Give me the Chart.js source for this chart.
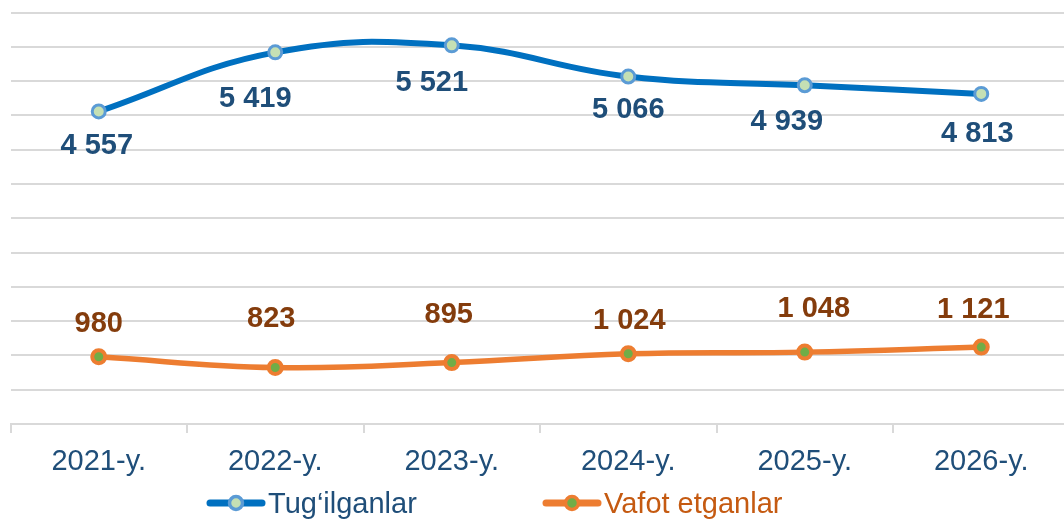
<!DOCTYPE html>
<html>
<head>
<meta charset="utf-8">
<script src="https://cdn.jsdelivr.net/npm/chart.js@4.4.1/dist/chart.umd.min.js"></script>
<style>
  html, body { margin: 0; padding: 0; background: #fff; overflow: hidden; }
  #wrap { width: 1080px; height: 520px; }
</style>
</head>
<body>
<div id="wrap"><canvas id="chart" width="1080" height="520"></canvas></div>
<script>
// chart data
const years = ["2021-y.", "2022-y.", "2023-y.", "2024-y.", "2025-y.", "2026-y."];
const births = [4557, 5419, 5521, 5066, 4939, 4813];
const deaths = [980, 823, 895, 1024, 1048, 1121];
const seriesNames = ["Tug\u2018ilganlar", "Vafot etganlar"];
const yMin = 0;
const yMax = 6000;
const yStep = 500;

// label nudges (px)
const birthShift = [[-2, 32], [-20, 44], [-20, 35], [0, 31], [-18, 34], [-4, 38]];
const deathShift = [[0, -35], [-4, -51], [-3, -50], [1, -35], [9, -46], [-8, -40]];

const FONT = "'Liberation Sans', Arial, sans-serif";
const BLUE = "#0070C0", ORANGE = "#ED7D31";

function fmt(v) {
  return String(v).replace(/\B(?=(\d{3})+(?!\d))/g, " ");
}

// value labels next to each point
const valueLabels = {
  id: "valueLabels",
  afterDatasetsDraw(chart) {
    const ctx = chart.ctx;
    const sets = [
      { meta: chart.getDatasetMeta(0), vals: births, shift: birthShift, color: "#1F4E79" },
      { meta: chart.getDatasetMeta(1), vals: deaths, shift: deathShift, color: "#843C0C" }
    ];
    ctx.save();
    ctx.font = "bold 29px " + FONT;
    ctx.textAlign = "center";
    ctx.textBaseline = "alphabetic";
    sets.forEach(s => {
      ctx.fillStyle = s.color;
      s.meta.data.forEach((pt, i) => {
        ctx.fillText(fmt(s.vals[i]), pt.x + s.shift[i][0], pt.y + s.shift[i][1] + 10.5);
      });
    });
    ctx.restore();
  }
};

// legend drawn like the original: line + marker + text
const lineLegend = {
  id: "lineLegend",
  afterDraw(chart) {
    const ctx = chart.ctx;
    const items = [
      { x: 207, text: seriesNames[0], line: BLUE, fill: "#C5E0B4", ring: "#5B9BD5", color: "#1F4E79" },
      { x: 543, text: seriesNames[1], line: ORANGE, fill: "#70AD47", ring: ORANGE, color: "#C55A11" }
    ];
    const y = 503;
    ctx.save();
    items.forEach(it => {
      ctx.strokeStyle = it.line;
      ctx.lineWidth = 7;
      ctx.lineCap = "round";
      ctx.beginPath();
      ctx.moveTo(it.x + 3, y);
      ctx.lineTo(it.x + 55, y);
      ctx.stroke();
      ctx.beginPath();
      ctx.arc(it.x + 29, y, 6.5, 0, Math.PI * 2);
      ctx.fillStyle = it.fill;
      ctx.fill();
      ctx.lineWidth = 3.5;
      ctx.strokeStyle = it.ring;
      ctx.stroke();
      ctx.font = "29px " + FONT;
      ctx.fillStyle = it.color;
      ctx.textAlign = "left";
      ctx.textBaseline = "alphabetic";
      ctx.fillText(it.text, it.x + 61, y + 10);
    });
    ctx.restore();
  }
};

new Chart(document.getElementById("chart"), {
  type: "line",
  data: {
    labels: years,
    datasets: [
      {
        label: seriesNames[0],
        data: births,
        borderColor: BLUE,
        borderWidth: 6,
        tension: 0.42,
        pointRadius: 6.5,
        pointBorderWidth: 3,
        pointBackgroundColor: "#C5E0B4",
        pointBorderColor: "#5B9BD5"
      },
      {
        label: seriesNames[1],
        data: deaths,
        borderColor: ORANGE,
        borderWidth: 5.5,
        tension: 0.42,
        pointRadius: 6.5,
        pointBorderWidth: 4,
        pointBackgroundColor: "#70AD47",
        pointBorderColor: ORANGE
      }
    ]
  },
  options: {
    responsive: false,
    animation: false,
    layout: { padding: { left: 10, right: 8, top: 12.5, bottom: 0 } },
    plugins: {
      legend: { display: false },
      tooltip: { enabled: false }
    },
    scales: {
      x: {
        offset: true,
        afterFit: s => { s.height = 96; },
        grid: {
          offset: true,
          drawOnChartArea: false,
          tickLength: 9,
          color: "#D9D9D9",
          lineWidth: 2
        },
        border: { color: "#D9D9D9", width: 2 },
        ticks: {
          color: "#1F4E79",
          font: { family: FONT, size: 29 },
          padding: 12,
          maxRotation: 0
        }
      },
      y: {
        min: yMin,
        max: yMax,
        afterFit: s => { s.width = 0; },
        ticks: { display: false, stepSize: yStep },
        grid: { color: "#D9D9D9", lineWidth: 2, drawTicks: false },
        border: { display: false }
      }
    }
  },
  plugins: [valueLabels, lineLegend]
});
</script>
</body>
</html>
